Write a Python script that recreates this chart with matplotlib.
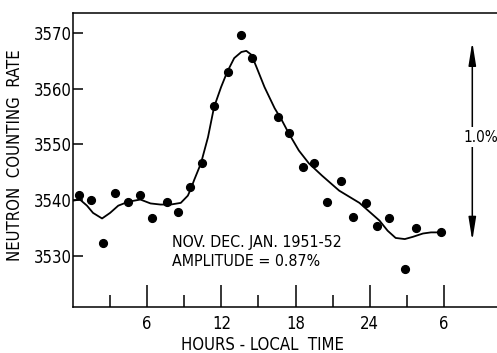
import numpy as np
import matplotlib
matplotlib.use("Agg")
import matplotlib.pyplot as plt

plt.rcParams['font.family'] = ['DejaVu Sans']
plt.rcParams['font.stretch'] = 'condensed'

# measured hourly points (hour of local time, counts)
hours = [0.47, 1.45, 2.43, 3.41, 4.47, 5.45, 6.35, 7.6, 8.5, 9.45, 10.43, 11.41, 12.55, 13.62,
         14.52, 16.55, 17.45, 18.6, 19.5, 20.55, 21.7, 22.68, 23.74, 24.63, 25.53, 26.84, 27.74, 29.78]
rate = [3541.0, 3540.1, 3532.3, 3541.2, 3539.7, 3541.0, 3536.7, 3539.7, 3537.9, 3542.4,
        3546.6, 3556.9, 3563.0, 3569.7, 3565.5, 3554.9, 3552.0, 3545.9, 3546.6, 3539.7,
        3543.5, 3537.0, 3539.5, 3535.4, 3536.7, 3527.6, 3535.0, 3534.2]

# smooth curve drawn through them
curve_h = [0.0, 0.56, 1.13, 1.62, 2.35, 3.0, 3.66, 4.47, 5.45, 6.27, 7.08, 7.9, 8.72, 9.29,
           9.53, 9.8, 10.35, 10.92, 11.41, 11.98, 12.47, 13.04, 13.62, 14.02, 14.43, 14.84,
           15.49, 16.31, 16.88, 17.45, 18.27, 19.08, 20.14, 21.53, 23.17, 24.8, 25.45, 26.1,
           26.84, 27.49, 28.31, 28.96, 29.78]
curve_v = [3539.9, 3540.1, 3539.0, 3537.7, 3536.7, 3537.7, 3539.0, 3539.7, 3540.1, 3539.4,
           3539.2, 3539.2, 3539.5, 3540.8, 3542.0, 3543.6, 3546.6, 3551.3, 3556.7, 3560.3,
           3563.0, 3565.5, 3566.6, 3566.8, 3566.1, 3563.9, 3560.3, 3556.5, 3554.4, 3552.0,
           3548.9, 3546.6, 3544.4, 3541.7, 3539.5, 3536.3, 3534.5, 3533.2, 3533.0, 3533.4,
           3534.0, 3534.2, 3534.2]

major_ticks = [6, 12, 18, 24, 30]
major_labels = ["6", "12", "18", "24", "6"]
minor_ticks = [3, 9, 15, 21, 27]
y_ticks = [3530, 3540, 3550, 3560, 3570]

fig = plt.figure(figsize=(4.97, 3.53), dpi=100)
ax = fig.add_axes([73 / 497, 46 / 353, 1 - 73 / 497 + 0.01, 294 / 353])

ax.plot(curve_h, curve_v, color='black', lw=1.3, solid_joinstyle='round')
ax.plot(hours, rate, 'o', color='black', markersize=5.6)

ax.set_xlim(0, 34.7)
ax.set_ylim(3520.8, 3573.6)

ax.set_xticks(major_ticks)
ax.set_xticklabels(major_labels)
ax.set_xticks(minor_ticks, minor=True)
ax.set_yticks(y_ticks)
ax.tick_params(axis='x', which='major', direction='in', length=16, width=1.1, labelsize=12, pad=6)
ax.tick_params(axis='x', which='minor', direction='in', length=8.5, width=1.1)
ax.tick_params(axis='y', direction='in', length=7, width=1.1, labelsize=12, pad=1)
ax.spines['right'].set_visible(False)
for s in ['left', 'top', 'bottom']:
    ax.spines[s].set_linewidth(1.1)

ax.set_ylabel("NEUTRON  COUNTING  RATE", fontsize=12)
ax.yaxis.set_label_coords(-0.115, 0.517)
ax.set_xlabel("HOURS - LOCAL  TIME", fontsize=12)
ax.xaxis.label.set_va('center')
ax.xaxis.set_label_coords(0.442, -0.129)

ax.text(8.0, 3532.3, "NOV. DEC. JAN. 1951-52", fontsize=11.4, va='center')
ax.text(8.0, 3528.9, "AMPLITUDE = 0.87%", fontsize=11.4, va='center')

# 1% scale arrow
ax.annotate("", xy=(32.3, 3568.4), xytext=(32.3, 3532.7),
            arrowprops=dict(arrowstyle='<|-|>,head_length=1.0,head_width=0.16',
                            color='black', lw=1.1, mutation_scale=14, shrinkA=0, shrinkB=0))
ax.text(32.95, 3551.3, "1.0%", fontsize=11, ha='center', va='center',
        bbox=dict(facecolor='white', edgecolor='none', pad=2))

fig.savefig("out.png", dpi=100)
